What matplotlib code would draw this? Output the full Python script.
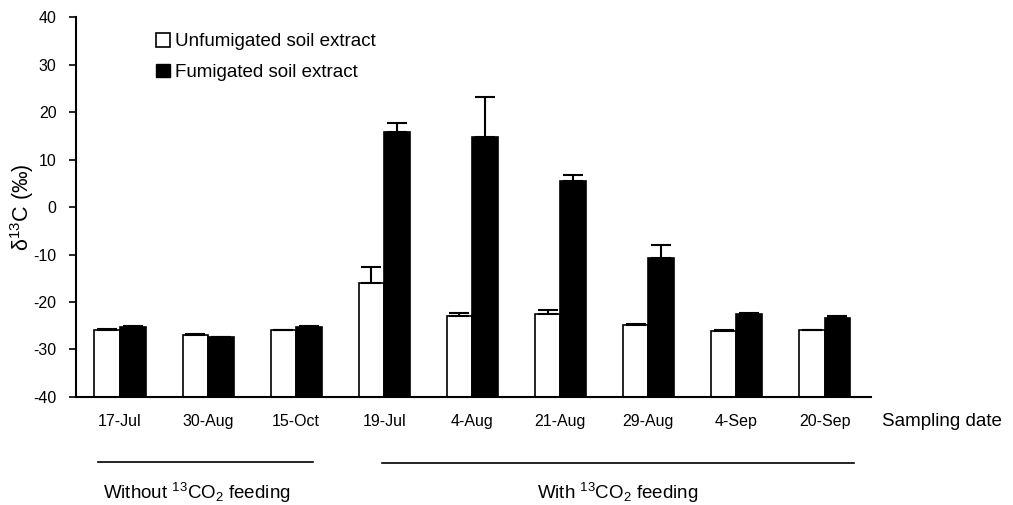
import matplotlib
matplotlib.use("Agg")
import matplotlib.pyplot as plt
from matplotlib.patches import Patch
import numpy as np

plt.rcParams['font.family'] = ['Liberation Sans', 'DejaVu Sans']
plt.rcParams['mathtext.fontset'] = 'custom'
plt.rcParams['mathtext.rm'] = 'Liberation Sans'
plt.rcParams['mathtext.it'] = 'Liberation Sans:italic'
plt.rcParams['axes.unicode_minus'] = False

dates = ["17-Jul", "30-Aug", "15-Oct", "19-Jul", "4-Aug", "21-Aug", "29-Aug", "4-Sep", "20-Sep"]
unfumigated = [-25.8, -26.9, -26.0, -15.9, -22.9, -22.6, -24.9, -26.2, -25.9]
unfumigated_err = [0.2, 0.2, 0.1, 3.3, 0.6, 0.9, 0.2, 0.2, 0.1]
fumigated = [-25.2, -27.4, -25.2, 15.9, 14.7, 5.4, -10.7, -22.5, -23.4]
fumigated_err = [0.1, 0.1, 0.1, 1.8, 8.4, 1.3, 2.8, 0.2, 0.4]

fig = plt.figure(figsize=(10.13, 5.05), dpi=100)
ax = fig.add_axes([0.075, 0.214, 0.785, 0.752])

x = np.arange(len(dates))
w = 0.29
zeros = np.zeros(len(dates))
ax.bar(x - w/2, np.array(unfumigated) + 40, w, bottom=-40, color='white', edgecolor='black', linewidth=1.2,
       yerr=[zeros, unfumigated_err], capsize=7, error_kw=dict(elinewidth=1.5, capthick=1.5))
ax.bar(x + w/2, np.array(fumigated) + 40, w, bottom=-40, color='black', edgecolor='black', linewidth=1.2,
       yerr=[zeros, fumigated_err], capsize=7, error_kw=dict(elinewidth=1.5, capthick=1.5))

ax.set_xlim(-0.5, 8.53)
ax.set_ylim(-40, 40)
ax.set_yticks(range(-40, 41, 10))
ax.set_xticks(x)
ax.set_xticklabels(dates, fontsize=11.5)
ax.tick_params(axis='x', length=0, pad=12)
ax.tick_params(axis='y', length=5, width=1.2, labelsize=11.5, pad=9)
for s in ['top', 'right']:
    ax.spines[s].set_visible(False)
for s in ['left', 'bottom']:
    ax.spines[s].set_linewidth(1.5)

ax.set_ylabel(r'δ$^{13}$C (‰)', fontsize=15.5)
ax.yaxis.set_label_coords(-0.05, 0.5)

handles = [Patch(facecolor='white', edgecolor='black', linewidth=1.2, label='Unfumigated soil extract'),
           Patch(facecolor='black', edgecolor='black', label='Fumigated soil extract')]
ax.legend(handles=handles, loc='upper left', bbox_to_anchor=(0.089, 0.983), frameon=False,
          fontsize=13.5, handlelength=0.75, handleheight=0.75, handletextpad=0.25, borderpad=0,
          labelspacing=0.7)

fig.text(882/1013, 1 - 422/505, 'Sampling date', fontsize=13.5, va='center', ha='left')

# group brackets below the axis
trans = matplotlib.transforms.blended_transform_factory(ax.transData, fig.transFigure)
ax.plot([-0.25, 2.19], [0.085, 0.085], color='black', lw=1.2, transform=trans, clip_on=False)
ax.plot([2.98, 8.33], [0.083, 0.083], color='black', lw=1.2, transform=trans, clip_on=False)
ax.text(0.875, 0.024, r'Without $^{13}$CO$_2$ feeding', fontsize=13.5, ha='center', va='center',
        transform=trans)
ax.text(5.65, 0.024, r'With $^{13}$CO$_2$ feeding', fontsize=13.5, ha='center', va='center',
        transform=trans)

fig.savefig('out.png', dpi=100)
